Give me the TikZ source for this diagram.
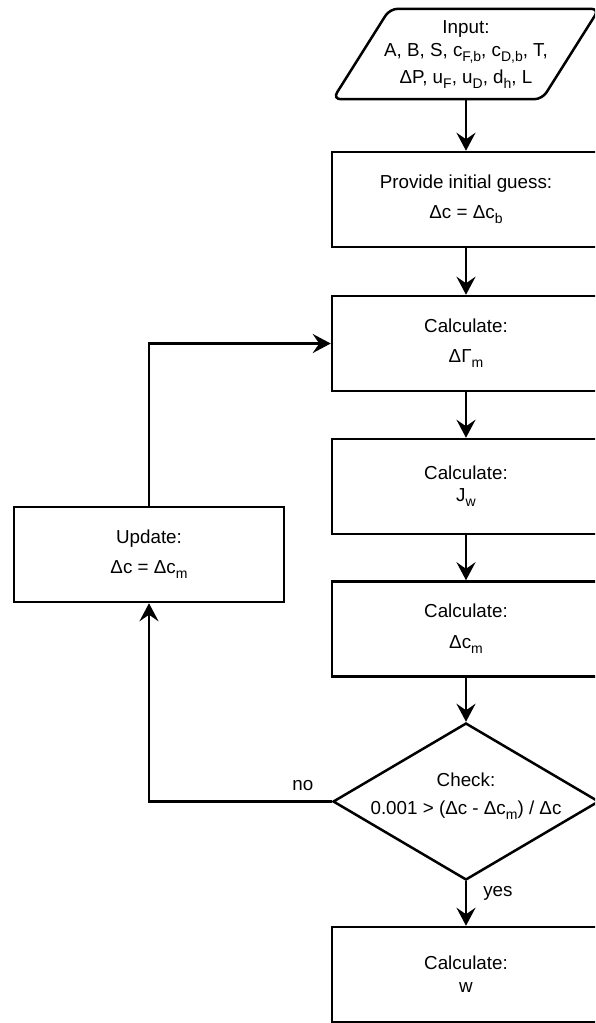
\documentclass[tikz,border=0pt]{standalone}
\usepackage{fontspec}
\setmainfont{Liberation Sans}
\usetikzlibrary{arrows.meta,calc,shapes.geometric}

% lowered, smaller index text
\newcommand{\lowidx}[1]{\raisebox{-5pt}{\fontsize{14}{14}\selectfont #1}}

\begin{document}
\begin{tikzpicture}[x=1pt,y=-1pt,
  every node/.style={font=\fontsize{18.8}{23}\selectfont},
  procbox/.style={draw, line width=2.5pt, rectangle, minimum width=268pt,
    minimum height=95pt, align=center, inner sep=0pt},
  decide/.style={draw, line width=2.5pt, diamond, minimum width=266pt,
    minimum height=157pt, inner sep=0pt},
  iotext/.style={rectangle, minimum width=209pt, minimum height=90pt,
    align=center, inner sep=0pt},
  iofrm/.style={draw, line width=2.5pt, rounded corners=8pt},
  flow/.style={draw, line width=2.5pt,
    -{Stealth[length=18pt,width=19pt,inset=6.5pt]}},
  edgelbl/.style={inner sep=0pt}
]
\useasboundingbox (0,0) rectangle (595,1023);
\clip (0,0) rectangle (595,1023);

% input data (parallelogram)
\node[iotext] (input) at (466,54) {};
\node[inner sep=0pt, align=center] (inputtxt) at (466,55)
  {Input:\\A, B, S, c\lowidx{F,b}, c\lowidx{D,b}, T,\\[4pt]ΔP, u\lowidx{F}, u\lowidx{D}, d\lowidx{h}, L};
\draw[iofrm] ($(input.south west)+(-28.5pt,0)$) -- ($(input.north west)+(28.5pt,0)$)
  -- ($(input.north east)+(28.5pt,0)$) -- ($(input.south east)+(-28.5pt,0)$) -- cycle;

% process steps
\node[procbox] (guess) at (466,199.5) {Provide initial guess:\\[7pt]Δc = Δc\lowidx{b}};
\node[procbox] (gam) at (466,343.5) {Calculate:\\[7pt]ΔΓ\lowidx{m}};
\node[procbox] (jw) at (466,486.5) {Calculate:\\[-1pt]J\lowidx{w}};
\node[procbox] (dcm) at (466,629) {Calculate:\\[8pt]Δc\lowidx{m}};
\node[decide] (chk) at (466,801.5)
  {\makebox[0pt]{\raisebox{1.3pt}[0pt][0pt]{\begin{tabular}{@{}c@{}}Check:\\[5pt]0.001 > (Δc - Δc\lowidx{m}) / Δc\end{tabular}}}};
\node[procbox] (wout) at (466,974.5) {Calculate:\\w};
\node[procbox, minimum width=270pt] (upd) at (149,554.5) {Update:\\[7pt]Δc = Δc\lowidx{m}};

% connectors
\draw[flow] (input.south) -- (guess.north);
\draw[flow] (guess.south) -- (gam.north);
\draw[flow] (gam.south) -- (jw.north);
\draw[flow] (jw.south) -- (dcm.north);
\draw[flow] (dcm.south) -- (chk.north);
\draw[flow] (chk.south) -- node[edgelbl, pos=0.333, anchor=base west, xshift=16pt] (yes) {yes} (wout.north);
\draw[flow] (chk.west) -- node[edgelbl, pos=0.158, anchor=base, yshift=11pt] (no) {no}
  (chk.west -| upd.south) -- (upd.south);
\draw[flow] (upd.north) |- (gam.west);
\end{tikzpicture}
\end{document}
